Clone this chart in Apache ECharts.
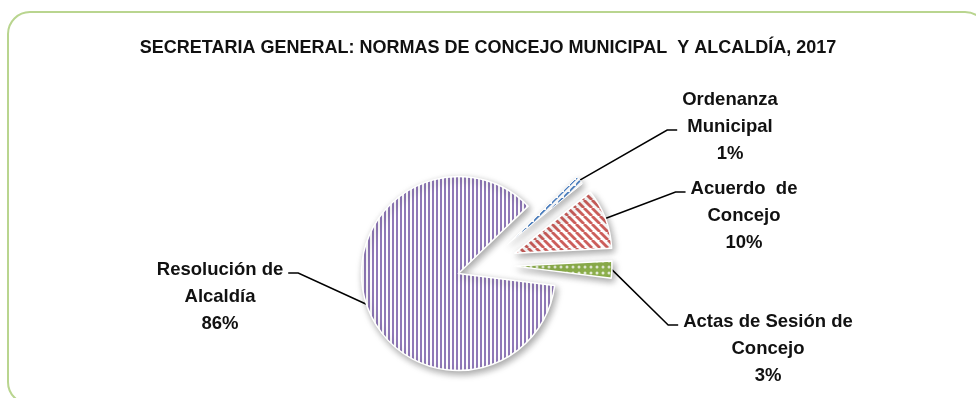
<!DOCTYPE html>
<html>
<head>
<meta charset="utf-8">
<script src="https://cdn.jsdelivr.net/npm/echarts@6/dist/echarts.min.js"></script>
<style>
  html, body { margin: 0; padding: 0; background: #fff; }
  #main { width: 976px; height: 398px; }
</style>
</head>
<body>
<div id="main"></div>
<script>
// datos del gráfico
var titulo = 'SECRETARIA GENERAL: NORMAS DE CONCEJO MUNICIPAL  Y ALCALDÍA, 2017';
var categorias = ['Ordenanza\nMunicipal', 'Acuerdo  de\nConcejo', 'Actas de Sesión de\nConcejo', 'Resolución de\nAlcaldía'];
// porcentajes estimados (se muestran redondeados: 1%, 10%, 3%, 86%)
var porcentajes = [1.4, 10, 2.8, 85.8];

// separación de cada porción respecto al centro (px)
var separacion = [31, 33, 31, 27];
// posiciones de las etiquetas (centro del texto) y línea a la que llega la guía
var posEtiquetas = [[730, 127], [744, 216], [768, 349], [220, 297]];
var lineaGuia = [1, 0, 0, 0];

var centro = [484, 265], radio = 97, anguloInicio = 44;
var fuente = 'Liberation Sans';
var altoLinea = 27;

// tramas tipo Excel
function trama(w, h, dibujar) {
  var c = document.createElement('canvas');
  c.width = w; c.height = h;
  var ctx = c.getContext('2d');
  dibujar(ctx);
  return { image: c, repeat: 'repeat' };
}
var tramaMorada = trama(4, 4, function (ctx) {
  ctx.fillStyle = '#ffffff'; ctx.fillRect(0, 0, 4, 4);
  ctx.fillStyle = '#9079b8'; ctx.fillRect(0, 0, 2, 4);
});
var tramaRoja = trama(8, 8, function (ctx) {
  ctx.fillStyle = '#ffffff'; ctx.fillRect(0, 0, 8, 8);
  ctx.strokeStyle = '#cd5f5c'; ctx.lineWidth = 2.8;
  for (var i = -8; i <= 16; i += 8) {
    ctx.beginPath(); ctx.moveTo(i, 0); ctx.lineTo(i + 8, 8); ctx.stroke();
  }
});
var tramaAzul = trama(6, 6, function (ctx) {
  ctx.fillStyle = '#ffffff'; ctx.fillRect(0, 0, 6, 6);
  ctx.fillStyle = '#4a7fc1';
  ctx.beginPath(); ctx.moveTo(0, 6); ctx.lineTo(0, 3.5); ctx.lineTo(3.5, 0); ctx.lineTo(6, 0); ctx.closePath(); ctx.fill();
});
var tramaVerde = trama(6, 6, function (ctx) {
  ctx.fillStyle = '#8fb24d'; ctx.fillRect(0, 0, 6, 6);
  ctx.fillStyle = '#e9f1da';
  ctx.beginPath(); ctx.arc(3, 3, 1.5, 0, Math.PI * 2); ctx.fill();
});
var tramas = [tramaAzul, tramaRoja, tramaVerde, tramaMorada];

var oculto = {
  itemStyle: { color: 'rgba(0,0,0,0)', borderWidth: 0, shadowBlur: 0, shadowColor: 'rgba(0,0,0,0)' },
  label: { show: false },
  labelLine: { show: false }
};

// guía al estilo Excel: diagonal desde la porción y un tramo corto horizontal
function colocarEtiqueta(p) {
  var i = p.dataIndex;
  var pos = posEtiquetas[i];
  var res = { x: pos[0], y: pos[1], align: 'center', verticalAlign: 'middle' };
  if (p.labelLinePoints && p.labelRect) {
    var w = p.labelRect.width;
    var der = pos[0] > centro[0];
    var yl = pos[1] + (lineaGuia[i] - 1) * altoLinea + 3;
    var xf = der ? pos[0] - w / 2 - 5 : pos[0] + w / 2 + 5;
    var xc = der ? xf - 10 : xf + 10;
    res.labelLinePoints = [p.labelLinePoints[0], [xc, yl], [xf, yl]];
  }
  return res;
}

// una serie por porción, para poder separar cada una del centro
var total = porcentajes.reduce(function (a, b) { return a + b; }, 0);
var acumulado = 0;
var series = porcentajes.map(function (v, i) {
  var medio = (anguloInicio - (acumulado + v / 2) / total * 360) * Math.PI / 180;
  acumulado += v;
  var d = separacion[i];
  return {
    type: 'pie',
    center: [centro[0] + d * Math.cos(medio), centro[1] - d * Math.sin(medio)],
    radius: radio,
    startAngle: anguloInicio,
    clockwise: true,
    avoidLabelOverlap: false,
    emphasis: { disabled: true },
    itemStyle: {
      borderColor: '#ffffff',
      borderWidth: i === 0 ? 1 : 1.5,
      shadowBlur: 7,
      shadowColor: 'rgba(0,0,0,0.35)',
      shadowOffsetX: 2,
      shadowOffsetY: 3
    },
    label: {
      show: true,
      position: 'outside',
      formatter: function (p) { return p.name + '\n' + Math.round(p.percent) + '%'; },
      fontFamily: fuente,
      fontWeight: 'bold',
      fontSize: 18.5,
      lineHeight: altoLinea,
      color: '#111',
      align: 'center'
    },
    labelLine: { show: true, length2: 10, lineStyle: { color: '#000', width: 1.5 } },
    labelLayout: colocarEtiqueta,
    data: categorias.map(function (n, j) {
      var item = { name: n, value: porcentajes[j] };
      if (j === i) item.itemStyle = { color: tramas[j] };
      else Object.assign(item, oculto);
      return item;
    })
  };
});

var chart = echarts.init(document.getElementById('main'));
chart.setOption({
  animation: false,
  title: {
    text: titulo,
    left: 'center',
    top: 34,
    textStyle: { fontFamily: fuente, fontWeight: 'bold', fontSize: 18, color: '#111' }
  },
  graphic: [{
    type: 'rect',
    shape: { x: 8, y: 12, width: 979, height: 392, r: 22 },
    style: { fill: 'none', stroke: '#b9d58f', lineWidth: 2 },
    silent: true
  }],
  series: series
});
</script>
</body>
</html>
